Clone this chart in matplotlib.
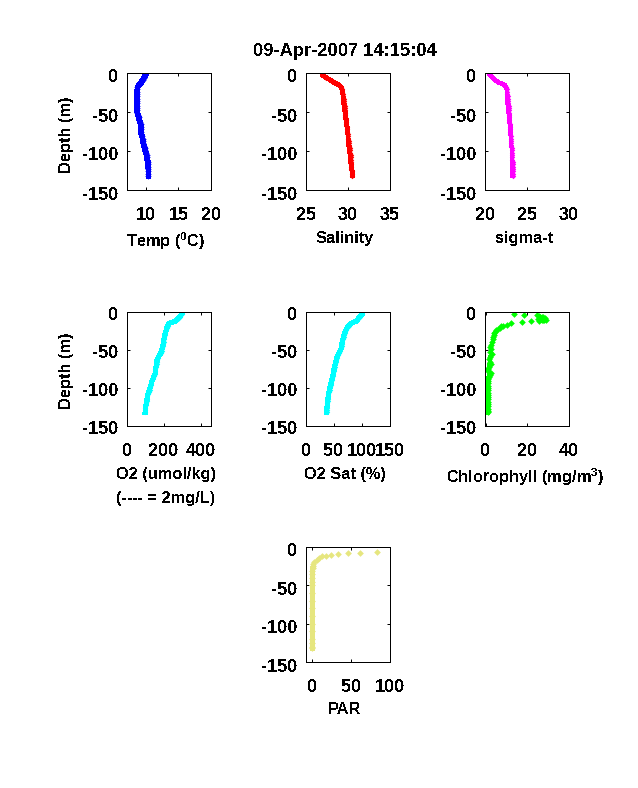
import matplotlib
matplotlib.use("Agg")
import matplotlib.pyplot as plt
from matplotlib.transforms import ScaledTranslation

plt.rcParams["font.family"] = ["Liberation Sans", "DejaVu Sans"]
plt.rcParams["font.weight"] = "bold"
plt.rcParams["axes.unicode_minus"] = False
plt.rcParams["text.antialiased"] = False
plt.rcParams["lines.antialiased"] = False
plt.rcParams["patch.antialiased"] = False
plt.rcParams["mathtext.fontset"] = "custom"
plt.rcParams["mathtext.rm"] = "Liberation Sans:bold"
plt.rcParams["mathtext.default"] = "rm"

W, H = 638, 788

# depth of the profile samples (m)
depth = [-3, -6, -9, -12, -15, -18, -21, -24, -27, -30, -33, -36, -39, -42, -45,
         -48, -51, -54, -57, -60, -63, -66, -69, -72, -75, -78, -81, -84, -87, -90,
         -93, -96, -99, -102, -105, -108, -111, -114, -117, -120, -123, -126, -129, -132]

temp = [9.9, 9.7, 9.5, 9.3, 9.0, 8.7, 8.7, 8.6, 8.6, 8.6, 8.6, 8.6, 8.6, 8.6, 8.6,
        8.6, 8.7, 8.8, 8.9, 9.0, 9.1, 9.2, 9.2, 9.3, 9.3, 9.3, 9.4, 9.5, 9.5, 9.6,
        9.7, 9.8, 9.9, 10.0, 10.1, 10.1, 10.2, 10.3, 10.3, 10.3, 10.4, 10.4, 10.4, 10.4]

salinity = [27.0, 27.4, 27.9, 28.3, 28.9, 29.2, 29.3, 29.3, 29.4, 29.4, 29.5, 29.5, 29.5, 29.6, 29.6,
            29.6, 29.7, 29.7, 29.7, 29.8, 29.8, 29.8, 29.9, 29.9, 29.9, 30.0, 30.0, 30.0, 30.1, 30.1,
            30.1, 30.2, 30.2, 30.2, 30.3, 30.3, 30.3, 30.3, 30.4, 30.4, 30.4, 30.5, 30.5, 30.5]

sigma_t = [20.6, 20.9, 21.2, 21.6, 22.3, 22.5, 22.6, 22.6, 22.6, 22.7, 22.7, 22.7, 22.7, 22.8, 22.8,
           22.8, 22.8, 22.9, 22.9, 22.9, 22.9, 23.0, 23.0, 23.0, 23.0, 23.0, 23.1, 23.1, 23.1, 23.1,
           23.1, 23.2, 23.2, 23.2, 23.2, 23.2, 23.2, 23.3, 23.3, 23.3, 23.3, 23.3, 23.3, 23.3]

o2 = [296, 285, 275, 262, 228, 220, 216, 212, 208, 205, 203, 200, 198, 196, 193,
      190, 188, 183, 176, 168, 163, 161, 160, 157, 154, 153, 152, 147, 142, 137,
      132, 130, 126, 123, 118, 113, 111, 109, 107, 105, 102, 100, 99, 98]

o2_sat = [100, 97, 93, 90, 80, 77, 73, 71, 69, 68, 67, 66, 65, 64, 64,
          63, 61, 59, 57, 55, 54, 53, 52, 51, 50, 50, 49, 48, 47, 46,
          45, 44, 43, 42, 41, 40, 40, 39, 39, 38, 38, 37, 37, 37]

chl_depth = [-2.6, -3.5, -3.5, -6, -7, -10.5, -12, -10.5, -9, -8, -13, -11.8, -14.4, -16.6, -18,
             -21, -24, -28, -33, -40, -46, -52, -59, -66, -72, -77, -83, -88, -94, -100,
             -106, -112, -118, -124, -130, -132, -5, -7, -9, -11, -8, -10,
             -19, -22, -26, -30, -36, -43, -49, -55, -62, -69, -75, -80, -85, -91, -97, -103,
             -109, -115, -121, -127]
chl = [13.6, 18.6, 24.5, 26, 27.7, 29, 25.6, 26.9, 25, 28.5, 17.6, 21.9, 12.2, 10, 8.5,
       7, 5, 4, 3.4, 2.9, 2.2, 2.2, 2, 2.1, 1.7, 1.3, 2, 1, 1, 1,
       1, 1.1, 1.1, 1.1, 1.1, 1.1, 25.5, 27, 26.5, 27.5, 26, 28,
       7.5, 6, 4.5, 3.8, 3.6, 2.6, 2.4, 2.8, 1.6, 2.6, 1.2, 2.3, 1.6, 1.3, 1.2, 1.2,
       1.3, 1.2, 1.2, 1.1]

par_depth = [-6.5, -8, -8, -9, -10.5, -12, -12, -14, -16.6, -19, -22, -25, -28, -31, -35,
             -40, -45, -50, -60, -70, -80, -90, -100, -110, -120, -125, -130, -132]
par = [83, 61, 45.5, 32.5, 24.7, 18, 12.5, 8.7, 5.6, 2.6, 1.6, 0.9, 0.5, 0.3, 0.2,
       0.1, 0.1, 0, 0, 0, 0, 0, 0, 0, 0, 0, 0, 0]

y_ticks = [0, -50, -100, -150]

title = "09-Apr-2007 14:15:04"
BLUE = "#0000ff"
RED = "#ff0000"
MAGENTA = "#ff00ff"
CYAN = "#00ffff"
GREEN = "#00ff00"
KHAKI = "#e6e67f"


def make_axes(fig, left, right, top, bottom, drop=3):
    # positions given in image pixels
    ax = fig.add_axes([left / W, 1 - bottom / H, (right - left) / W, (bottom - top) / H])
    ax.set_ylim(-150, 0)
    ax.set_yticks(y_ticks)
    ax.tick_params(direction="in", length=2, width=0.72, top=True, right=True, labelsize=13)
    ax.tick_params(axis="x", pad=12)
    ax.tick_params(axis="y", pad=6)
    for s in ax.spines.values():
        s.set_linewidth(0.72)
    # the labels sit a little below their ticks
    shift = ScaledTranslation(0, -drop / 100, fig.dpi_scale_trans)
    for lbl in ax.get_yticklabels():
        lbl.set_transform(lbl.get_transform() + shift)
    return ax


def label(fig, x, y, text, size=11.8, **kw):
    fig.text(x / W, 1 - y / H, text, ha="center", va="center", fontsize=size, **kw)


def profile(ax, x, y, color, xlim, xticks, ms=2.8, lw=None):
    if lw:
        ax.plot(x, y, color=color, lw=lw)
    ax.plot(x, y, color=color, marker="D", ms=ms, mew=0, ls="none")
    ax.set_xlim(*xlim)
    ax.set_xticks(xticks)


fig = plt.figure(figsize=(W / 100, H / 100), dpi=100)

ax = make_axes(fig, 127, 211, 73, 190)
profile(ax, temp, depth, BLUE, (7.1, 20), [10, 15, 20], ms=3.2, lw=3.4)

ax = make_axes(fig, 306, 390, 73, 190)
profile(ax, salinity, depth, RED, (25, 35), [25, 30, 35], lw=2.8)

ax = make_axes(fig, 485, 569, 73, 190)
profile(ax, sigma_t, depth, MAGENTA, (20, 30), [20, 25, 30], lw=2.6)

ax = make_axes(fig, 127, 211, 312, 426, drop=1.5)
profile(ax, o2, depth, CYAN, (0, 455), [0, 200, 400], lw=3)

ax = make_axes(fig, 306, 390, 312, 426, drop=1.5)
profile(ax, o2_sat, depth, CYAN, (0, 150), [0, 50, 100, 150], lw=3)

ax = make_axes(fig, 484.5, 569, 312, 426, drop=1.5)
ax.plot(chl[22:36], chl_depth[22:36], color=GREEN, lw=2.6)
profile(ax, chl, chl_depth, GREEN, (-0.6, 40), [0, 20, 40], ms=3.4)

ax = make_axes(fig, 306, 390, 547, 662)
ax.plot(par[12:], par_depth[12:], color=KHAKI, lw=3.2)
profile(ax, par, par_depth, KHAKI, (-8, 100), [0, 50, 100], ms=3.4)

label(fig, 345, 52, title, size=13.2)
label(fig, 67, 135, "Depth (m)", rotation=90)
label(fig, 67, 371, "Depth (m)", rotation=90)
label(fig, 166, 241, r"Temp ($^{0}$C)")
label(fig, 345, 238, "Salinity")
label(fig, 525, 238, "sigma-t")
label(fig, 166, 475, "O2 (umol/kg)")
label(fig, 166, 499, "(---- = 2mg/L)")
label(fig, 345, 475, "O2 Sat (%)")
label(fig, 525, 477, r"Chlorophyll (mg/m$^{3}$)")
label(fig, 345, 710, "PAR")

fig.savefig("out.png", dpi=100)
